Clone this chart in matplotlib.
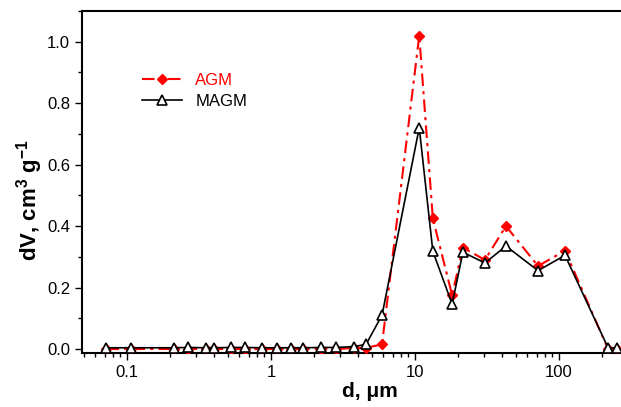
import numpy as np
import matplotlib
matplotlib.use('Agg')
import matplotlib.pyplot as plt
from matplotlib.ticker import LogLocator, FuncFormatter, MultipleLocator, NullFormatter

plt.rcParams['font.family'] = ['Liberation Sans', 'DejaVu Sans']
plt.rcParams['mathtext.fontset'] = 'custom'
plt.rcParams['mathtext.rm'] = 'Liberation Sans'
plt.rcParams['mathtext.bf'] = 'Liberation Sans:bold'
plt.rcParams['mathtext.default'] = 'bf'

# pore diameter, um
d = [0.072, 0.107, 0.212, 0.265, 0.354, 0.402, 0.527, 0.66, 0.866, 1.10,
     1.38, 1.67, 2.22, 2.83, 3.77, 4.57, 5.90, 10.7, 13.3, 18.1,
     21.5, 30.6, 42.8, 71.5, 110, 219, 253]

# dV, cm3 g-1
agm = [0.0, 0.0, 0.0, 0.0, 0.0, 0.0, 0.0, 0.0, 0.0, 0.0,
       0.0, 0.0, 0.0, 0.0, 0.003, 0.004, 0.015, 1.02, 0.425, 0.175,
       0.33, 0.29, 0.40, 0.27, 0.32, 0.0, 0.0]
magm = [0.004, 0.004, 0.004, 0.005, 0.004, 0.004, 0.005, 0.005, 0.004, 0.004,
        0.004, 0.004, 0.005, 0.005, 0.008, 0.015, 0.11, 0.72, 0.318, 0.146,
        0.315, 0.28, 0.335, 0.255, 0.305, 0.004, 0.004]

fig = plt.figure(figsize=(6.21, 4.07), dpi=100)
# right part of the frame is cut off in the original
ax = fig.add_axes([82 / 621, 54 / 407, 575 / 621, 342 / 407])

ax.plot(d, agm, color='#ff0000', lw=1.5, dashes=[6, 2.5, 1.5, 2.5], marker='D',
        markersize=5.5, markerfacecolor='#ff0000', markeredgecolor='#ff0000',
        label='AGM', zorder=3)
ax.plot(d, magm, '-', color='black', lw=1.2, marker='^', markersize=7,
        markerfacecolor='white', markeredgecolor='black', markeredgewidth=1.2,
        label='MAGM', zorder=4)

ax.set_xscale('log')
ax.set_xlim(0.0487, 479)
ax.set_ylim(-0.013, 1.1)

ax.xaxis.set_major_locator(LogLocator(base=10, numticks=10))
ax.xaxis.set_major_formatter(FuncFormatter(lambda v, p: '{:g}'.format(v)))
ax.xaxis.set_minor_locator(LogLocator(base=10, subs=np.arange(2, 10), numticks=20))
ax.xaxis.set_minor_formatter(NullFormatter())
ax.set_yticks(np.arange(0, 1.01, 0.2))
ax.yaxis.set_major_formatter(FuncFormatter(lambda v, p: '{:.1f}'.format(v)))
ax.yaxis.set_minor_locator(MultipleLocator(0.1))

ax.tick_params(which='both', direction='out', top=False, right=False, labelsize=12, width=1)
ax.tick_params(which='major', length=5)
ax.tick_params(which='minor', length=3)
for s in ax.spines.values():
    s.set_linewidth(1.5)

ax.set_ylabel('dV, cm$^3$ g$^{-1}$', fontsize=16, fontweight='bold')
ax.set_xlabel('d, \u03bcm', fontsize=15, fontweight='bold')
ax.xaxis.set_label_coords(0.50, -0.085)
ax.yaxis.set_label_coords(-0.065, 0.447)

ax.legend(loc='upper left', bbox_to_anchor=(142 / 621, 1 - 73 / 407),
          bbox_transform=fig.transFigure, frameon=False, fontsize=12,
          handlelength=2.4, handletextpad=0.8, labelspacing=0.35,
          borderpad=0, borderaxespad=0, labelcolor='linecolor')

fig.savefig('out.png', dpi=100)
